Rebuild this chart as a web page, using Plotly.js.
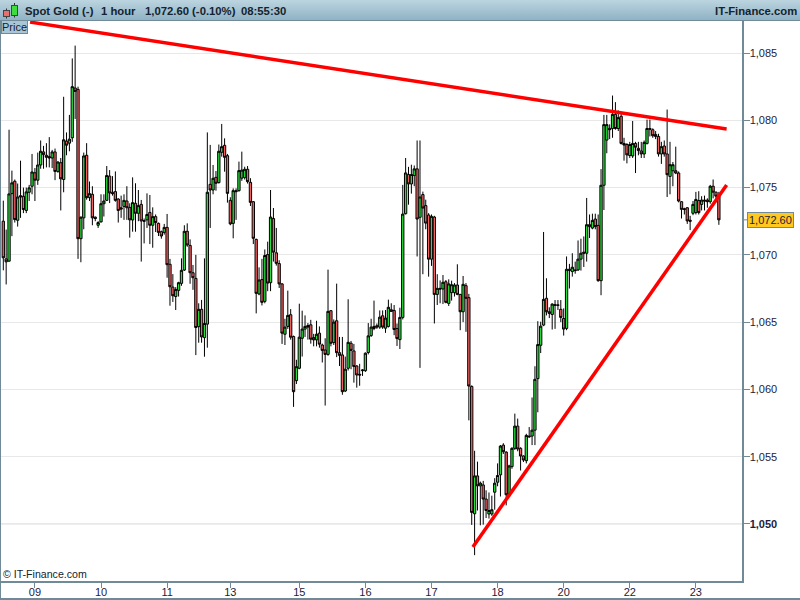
<!DOCTYPE html>
<html><head><meta charset="utf-8">
<script src="https://cdn.plot.ly/plotly-3.0.0.min.js"></script>
<style>
html,body{margin:0;padding:0;background:#fff;width:800px;height:600px;overflow:hidden}
#bg{position:absolute;left:0;top:0;width:800px;height:600px;box-sizing:border-box;border-left:1px solid #708a98;border-bottom:2px solid #708a98}
#hd{position:absolute;left:0;top:0;width:800px;height:20px;background:linear-gradient(#bcd5e0,#8fb2c4);border-bottom:1px solid #708a98;box-sizing:content-box}
#ic{position:absolute;left:3px;top:2px}
#chart{position:absolute;left:0;top:0;width:800px;height:600px}
</style></head><body>
<div id="bg"></div><div id="hd"></div>
<div id="chart"></div>
<svg id="ic" width="16" height="18" viewBox="0 0 16 18"><path d="M3.5 6.5V16.5M11.5 1V15.5" stroke="#333" fill="none"/><rect x="0.5" y="8.5" width="6" height="6" fill="#ea7070" stroke="#444"/><rect x="8.5" y="3.5" width="6" height="10" fill="#3fdc3f" stroke="#444"/></svg>
<script>
const open_ = [
1072.5,1069.7,1069.53,1074.55,1075.47,1072.57,1074.4,1074.35,1073.3,1074.65,
1075.1,1076.1,1075.55,1076.68,1077.65,1077.4,1077.3,1077.2,1077.65,1076.2,
1076.85,1075.6,1078.45,1078.3,1078.7,1082.4,1082.3,1071.2,1072.75,1077.4,
1074.25,1074.5,1072.8,1072.2,1072.45,1073.8,1074.05,1075.85,1074.65,1074.7,
1074.15,1073.5,1073.6,1074,1073.53,1072.59,1073.83,1073.09,1073.75,1072.55,
1072.6,1073.15,1072.2,1072.84,1072.34,1071.72,1071.67,1072.04,1069.3,1067.6,
1066.9,1067.36,1067.88,1068.87,1071.75,1070.7,1068.67,1068.25,1064.66,1065.95,
1063.85,1064.85,1075.24,1074.82,1075.76,1075.37,1077.62,1078.14,1077.37,1074.05,
1072.34,1074.77,1074.77,1075.7,1075.74,1076.36,1075.39,1073.95,1071.15,1067.09,
1068.16,1066.54,1070.02,1067.93,1072.7,1070.15,1069.35,1067.84,1064.1,1064.68,
1065.55,1063.93,1060.65,1061.57,1063.8,1064.48,1064.75,1064.8,1063.85,1063.68,
1064.18,1063.3,1062.93,1062.6,1065.85,1063.48,1065.1,1062.73,1062.56,1059.88,
1061.57,1063.43,1062.86,1061.74,1061.12,1061.39,1061.39,1062.74,1064,1064.68,
1064.73,1064.63,1065.47,1064.55,1064.68,1065.92,1065.87,1064.53,1063.7,1065.35,
1073.06,1075.97,1075.27,1075.9,1076.39,1072.79,1074.48,1073.66,1072.96,1069.68,
1072.81,1067.06,1067.51,1067.46,1068,1066.39,1067.19,1067.19,1067.76,1067.06,
1065.77,1067.71,1066.82,1060.22,1050.76,1053.57,1052.83,1052.9,1051.85,1050.74,
1050.74,1052.36,1053.1,1053.65,1055.86,1055.34,1052.22,1054.26,1055.62,1057.27,
1055.62,1055.05,1054.7,1056.53,1056.53,1056.97,1060.8,1063.28,1064.78,1066.77,
1065.77,1065.57,1066.3,1066.28,1065.95,1065.27,1064.53,1068.93,1068.76,1068.88,
1068.88,1069.68,1070.2,1070.12,1072.24,1071.99,1072.66,1072.19,1068.08,1075.17,
1078.53,1079.4,1079.39,1080.44,1079.39,1080.3,1078.28,1078.2,1077.38,1077.35,
1078.28,1077.92,1077.72,1077.5,1078.28,1079.39,1079.3,1078.95,1078.8,1077.5,
1078.09,1077.5,1075.83,1076.25,1076.25,1076.08,1073.95,1073.43,1073.5,1072.57,
1073.09,1073.14,1074.04,1073.75,1074.07,1074.07,1073.95,1075.1,1074.66,1074.36];
const high_ = [
1074.03,1071.88,1079.3,1076.26,1075.6,1075.3,1077,1075,1075,1075.2,
1077.5,1076.45,1077.6,1078.5,1078.1,1078.3,1078.75,1077.8,1077.9,1076.95,
1077.2,1081.75,1079.1,1080.4,1084.6,1085.55,1082.5,1072.85,1077.6,1078.3,
1075.45,1075.1,1072.85,1072.5,1074.5,1074.5,1076.6,1076.3,1075.85,1076.2,
1074.2,1074.4,1074.5,1075.1,1073.83,1075.76,1075.32,1074.82,1074.08,1072.7,
1074.57,1074.45,1073.53,1073,1072.4,1071.8,1072.3,1073.04,1069.7,1068.57,
1067.6,1068,1069.74,1072.2,1072.34,1071.15,1069.25,1070,1066.4,1066.65,
1069.74,1079.1,1078.17,1076.68,1076.23,1078.2,1079.73,1078.66,1077.5,1074.28,
1074.94,1074.94,1076.93,1077.67,1076.55,1076.6,1075.7,1074,1071.2,1069.07,
1069.7,1070.4,1070.98,1074.82,1073.48,1072,1069.6,1067.9,1065.25,1067.34,
1065.97,1064,1062.2,1066.37,1065.85,1065.5,1064.93,1065.17,1064.13,1065.1,
1064.68,1063.4,1063.8,1068.9,1065.9,1065.2,1067.86,1063.9,1063.9,1062.44,
1066.7,1063.6,1063.38,1061.8,1061.9,1061.5,1062.75,1064.93,1065.25,1066.6,
1064.9,1065.87,1065.87,1065.9,1066.67,1066.4,1066.27,1064.9,1066.07,1075.2,
1077.2,1076.54,1076.7,1076.64,1078.5,1078.5,1074.7,1074.1,1073.1,1073,
1072.9,1068.56,1068.1,1068.5,1068.13,1068.18,1068.08,1067.9,1069.3,1067.1,
1068.43,1067.9,1067.1,1060.3,1055.44,1054.63,1053.15,1053.2,1052.5,1052.34,
1052.1,1053.4,1054.5,1055.86,1056,1055.4,1054.4,1055.7,1058.2,1057.83,
1055.7,1055.1,1056.7,1057.2,1059.4,1061.72,1065.07,1065.03,1071.7,1068.26,
1066.1,1066.4,1066.64,1066.64,1066.64,1066.02,1069.88,1069.33,1070.12,1069.5,
1071.07,1071.2,1071.37,1074.23,1073,1073.06,1073.06,1073,1076.37,1080.4,
1080.4,1079.7,1081.84,1081.35,1080.73,1080.6,1078.7,1078.3,1078.4,1079.95,
1078.4,1078.4,1078.4,1078.5,1080.05,1080.05,1079.4,1079.2,1079,1078.4,
1078.5,1080.8,1078.4,1076.9,1078.04,1076.2,1074,1073.5,1073.55,1072.9,
1074,1074.68,1074.73,1074.36,1074.4,1074.2,1075.2,1075.6,1074.7,1074.68];
const low_ = [
1068.85,1067.8,1069.5,1071.39,1072.4,1072.1,1072.75,1073.1,1073.1,1074,
1074.5,1074,1075.2,1076.4,1076.4,1076.5,1076.5,1076.45,1075.55,1076.1,
1073.3,1074.65,1077.4,1077.7,1078.4,1080.1,1069.7,1069.45,1071.9,1074.1,
1074,1072.2,1072.5,1072,1072.4,1072.85,1074,1073.85,1074.4,1073.95,
1072.4,1072.75,1072.6,1072.6,1071.28,1071.72,1071.72,1072.5,1069.5,1070.85,
1072,1070.8,1070.53,1071.7,1071.4,1071.2,1071.5,1068.3,1066.22,1066.5,
1065.9,1066.9,1067.7,1068.8,1070.6,1067.85,1067.4,1062.55,1063.47,1063.47,
1062.43,1063.1,1072,1074.5,1074.77,1075.3,1077.3,1076.18,1073.88,1072.2,
1071.23,1072.6,1074.7,1075.5,1075.6,1075.3,1073.63,1070.8,1065.65,1067,
1066.24,1066.4,1067.3,1067.3,1069.5,1069.2,1067.54,1063.38,1063.3,1064.5,
1063.7,1058.7,1060.4,1061.5,1062.44,1063.9,1063.7,1063.4,1063.2,1063.2,
1063.1,1062,1058.8,1062.5,1063.2,1063.3,1062.4,1061.74,1059.6,1059.8,
1061.4,1061.5,1060.5,1060.13,1060.27,1061,1061.3,1062.6,1063.9,1064.4,
1064.5,1064.5,1064.5,1064.2,1064.6,1065.75,1064.03,1063.23,1063,1065.2,
1073,1073.73,1074.55,1075.1,1069.88,1061.6,1068.56,1071.9,1068.38,1069.18,
1064.9,1066.27,1066.4,1066.34,1066.4,1066.2,1066.6,1066.9,1067,1064.4,
1065,1064.28,1057.7,1049.93,1047.68,1051,1049.9,1049.95,1050.44,1050.4,
1050.6,1051.06,1052.8,1052.04,1055.2,1051.38,1052,1054.1,1055.5,1055.4,
1053.97,1054.6,1054.5,1056.4,1055.86,1055.86,1058.3,1062.7,1064.7,1065.5,
1065.3,1064.45,1064.5,1065.9,1065,1064,1064.4,1067.5,1068.38,1068.6,
1068.8,1068.83,1069.1,1069.5,1071.25,1071.9,1071.9,1068,1067,1073.33,
1077.55,1078.6,1078.7,1079.3,1079.2,1078.2,1077,1076.8,1077.2,1077.2,
1076.08,1077.4,1077.2,1077.2,1078.2,1078.8,1078.7,1078.6,1077.3,1076.76,
1077.3,1074.3,1074.5,1075.1,1076,1073.9,1072.7,1073,1072.3,1071.84,
1072.95,1073,1073,1073.3,1073.3,1073.5,1073.8,1074.2,1073.9,1072.23];
const close_ = [
1069.78,1069.48,1074.53,1075.35,1072.62,1074.3,1074.3,1073.37,1074.68,1074.98,
1076.16,1075.55,1076.68,1077.7,1077.45,1077.25,1077.2,1077.65,1076.2,1076.9,
1075.65,1078.55,1078.15,1078.6,1082.5,1082.15,1071.2,1072.8,1077.35,1074.25,
1074.55,1072.75,1072.7,1072.4,1073.8,1074,1075.9,1074.6,1074.55,1074.05,
1073.3,1073.4,1074.05,1073.5,1072.6,1073.88,1073.09,1073.66,1072.52,1072.5,
1073,1072.2,1072.84,1072.4,1071.67,1071.4,1072.04,1069.27,1067.63,1066.96,
1067.43,1067.93,1068.85,1071.75,1070.73,1068.67,1068.3,1064.6,1065.95,1063.9,
1064.9,1074.65,1074.82,1075.69,1075.32,1077.7,1078.04,1077.25,1074.57,1072.3,
1074.77,1074.7,1076.26,1076.3,1076.36,1075.44,1073.9,1071.23,1067.14,1068.13,
1066.47,1069.95,1067.9,1072.81,1070.2,1069.37,1067.84,1064.18,1064.63,1065.5,
1063.88,1059.83,1061.69,1063.88,1064.48,1064.68,1064.63,1063.73,1063.68,1064.1,
1063.36,1062.9,1062.6,1065.8,1063.43,1065,1062.73,1062.53,1059.83,1061.5,
1063.5,1062.9,1061.7,1061.07,1061.07,1061.44,1062.69,1063.98,1064.63,1064.53,
1064.63,1065.37,1064.63,1065.3,1066.1,1065.8,1064.45,1063.78,1065.35,1073.03,
1076.09,1075.27,1075.97,1076.39,1072.66,1074.3,1073.48,1072.36,1069.68,1072.86,
1067.06,1067.51,1067.46,1067.96,1066.47,1067.84,1067.78,1067.76,1067.06,1065.77,
1067.81,1066.77,1060.25,1050.86,1053.57,1052.83,1053.03,1051.85,1051,1051,
1051.06,1053.03,1053.6,1055.79,1055.37,1052.17,1054.31,1055.62,1057.27,1055.57,
1055.05,1054.75,1056.58,1056.48,1056.97,1060.75,1063.33,1064.7,1066.69,1065.77,
1065.65,1066.34,1066.25,1066.25,1065.35,1064.48,1068.93,1068.85,1069.08,1068.83,
1069.68,1070.12,1070.12,1072.24,1072.1,1072.56,1072.1,1068.08,1075.17,1079.68,
1079.68,1079.3,1080.44,1079.39,1080.2,1078.28,1078.16,1077.43,1078.2,1078.28,
1078,1077.75,1077.5,1078.36,1079.39,1079.34,1078.85,1078.8,1077.5,1078.04,
1077.5,1075.96,1076.7,1076.7,1076.08,1074,1073.38,1073.38,1072.52,1072.5,
1073.75,1074.12,1073.14,1074.07,1074,1073.95,1075.1,1074.66,1074.36,1072.6];
const barIndex = open_.map((_, i) => i);
const dayTickBars = [11,34,57,79,103,126,149,172,195,218,241];
const dayTickLabels = ['09','10','11','13','15','16','17','18','20','22','23'];
const priceTicks = [1050,1055,1060,1065,1070,1075,1080,1085];
const priceLabels = ['<b>1,050</b>','1,055','1,060','1,065','1,070','1,075','1,080','1,085'];
const resistX = [9.3,251.7], resistY = [1087.3,1079.35];
const supportX = [163.4,251.7], supportY = [1048.29,1075.19];
const lastPrice = 1072.6, lastLabel = '1,072.60';

const W=800,H=600,mL=1,mR=58,mT=21,mB=19;
const px = p => (p-mL)/(W-mL-mR);
const py = p => 1-(p-mT)/(H-mT-mB);
const hdr = (t,x,anc) => ({text:t,xref:'paper',yref:'paper',x:px(x),y:py(11),xanchor:anc||'left',yanchor:'middle',showarrow:false,
  font:{family:'"Liberation Sans",Arial,sans-serif',size:11.3,color:'#14232e',weight:700}});
const frame='#708a98';
const traces=[
 {type:'candlestick',x:barIndex,open:open_,high:high_,low:low_,close:close_,whiskerwidth:0,
  increasing:{line:{color:'#000',width:1},fillcolor:'#28e03c'},
  decreasing:{line:{color:'#000',width:1},fillcolor:'#f26060'},showlegend:false,hoverinfo:'skip'},
 {type:'scatter',mode:'lines',x:resistX,y:resistY,line:{color:'#ff0000',width:3.5},showlegend:false,hoverinfo:'skip'},
 {type:'scatter',mode:'lines',x:supportX,y:supportY,line:{color:'#ff0000',width:3.5},showlegend:false,hoverinfo:'skip'}
];
const layout={
 width:W,height:H,margin:{l:mL,r:mR,t:mT,b:mB,pad:0},
 paper_bgcolor:'rgba(0,0,0,0)',plot_bgcolor:'#fff',showlegend:false,boxgap:0.2,boxgroupgap:0,
 font:{family:'"Liberation Sans",Arial,sans-serif',size:11,color:'#1c1c3c'},
 xaxis:{type:'linear',range:[-0.8,257.05],rangeslider:{visible:false},showgrid:false,zeroline:false,
   tickmode:'array',tickvals:dayTickBars,ticktext:dayTickLabels,ticks:'outside',ticklen:5,tickcolor:frame,tickwidth:1,ticklabelstandoff:-5,
   showline:true,linecolor:frame,linewidth:1.5,tickfont:{size:11,color:'#1c1c3c'}},
 yaxis:{type:'linear',side:'right',range:[1045.76,1087.38],showgrid:true,gridcolor:'#e8e8e8',gridwidth:1,zeroline:false,
   tickmode:'array',tickvals:priceTicks,ticktext:priceLabels,ticks:'outside',ticklen:6,tickcolor:frame,tickwidth:1,ticklabelstandoff:-2,
   showline:true,linecolor:frame,linewidth:1.5,tickfont:{size:11,color:'#1c1c3c'}},
 shapes:[
  {type:'line',layer:'below',xref:'paper',yref:'y',x0:0,x1:1,y0:1050,y1:1050,line:{color:'#d8d8d8',width:1}},
  {type:'line',xref:'paper',yref:'y',x0:1,x1:px(748),y0:lastPrice,y1:lastPrice,line:{color:frame,width:1}}
 ],
 annotations:[
  hdr('Spot Gold (-)',22.5),hdr('1 hour',98.5),hdr('1,072.60 (-0.10%)',142.5),hdr('08:55:30',238.5),hdr('IT-Finance.com',798.5,'right'),
  {text:'Price',xref:'paper',yref:'paper',x:px(1),y:py(20.5),xanchor:'left',yanchor:'top',showarrow:false,bgcolor:'#a9c6d6',bordercolor:frame,borderwidth:1,borderpad:0,
   font:{size:11,color:'#14232e'}},
  {text:'© IT-Finance.com',xref:'paper',yref:'paper',x:px(1),y:py(574),xanchor:'left',yanchor:'middle',showarrow:false,font:{size:10.6,color:'#14232e'}},
  {text:lastLabel,xref:'paper',yref:'y',x:px(747.5),y:lastPrice,xanchor:'left',yanchor:'middle',showarrow:false,bgcolor:'#ffc81e',bordercolor:frame,borderwidth:1,borderpad:1,
   font:{size:11,color:'#1c1c3c'}}
 ]
};
Plotly.newPlot('chart',traces,layout,{staticPlot:true,displayModeBar:false});
</script></body></html>
